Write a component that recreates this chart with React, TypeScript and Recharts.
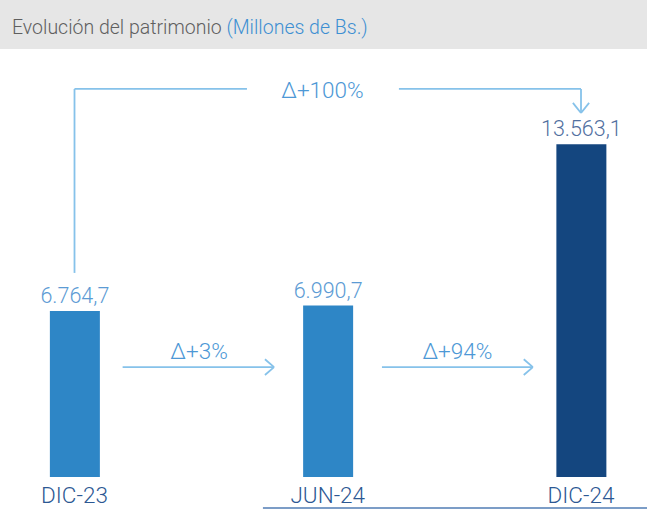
import React from 'react';
import {
  ComposedChart,
  Bar,
  Cell,
  XAxis,
  YAxis,
  LabelList,
  ReferenceLine,
  ReferenceDot,
} from 'recharts';

// ---- data ----
const categories = ['DIC-23', 'JUN-24', 'DIC-24'];
const values = [6764.7, 6990.7, 13563.1];
const changes = ['Δ+3%', 'Δ+94%', 'Δ+100%'];
const titleMain = 'Evolución del patrimonio';
const titleUnit = '(Millones de Bs.)';

// ---- styles ----
const barColors = ['#2e86c6', '#2e86c6', '#14467f'];
const labelColors = ['#5c9bd4', '#5c9bd4', '#52709f'];
const arrowColor = '#86c2ea';
const deltaColor = '#4d98d6';
const tickColor = '#2c5893';
const FONT = 'Roboto, "Liberation Sans", sans-serif';

const W = 649;
const H = 526;

const data = categories.map((c, i) => ({ idx: i, name: c, value: values[i] }));

const fmt = (v: number) => {
  const [i, d] = v.toFixed(1).split('.');
  return i.replace(/\B(?=(\d{3})+(?!\d))/g, '.') + ',' + d;
};

// annotation geometry (in axis units)
const ARROW_Y = 4480;
const ARROW_TEXT_Y = 5140;
const WING_DX = 0.036;
const WING_DY = 320;
const arrows = [
  { from: 0.19, to: 0.788, text: 0.492, label: changes[0] },
  { from: 1.214, to: 1.81, text: 1.512, label: changes[1] },
];
const BRACKET_TOP = 15820;
const BRACKET_START = 8320;
const BRACKET_TIP = 14840;
const BRACKET_GAP = [0.681, 1.281];
const BRACKET_TEXT = { x: 0.979, y: 15780 };

const ValueLabel = (props: any) => {
  const { x, y, width, value, index } = props;
  return (
    <text
      x={x + width / 2}
      y={y - 8}
      textAnchor="middle"
      fill={labelColors[index]}
      fontSize={21.5}
      fontWeight={300}
      fontFamily={FONT}
    >
      {fmt(value)}
    </text>
  );
};

const Tick = (props: any) => {
  const { x, y, payload } = props;
  return (
    <text
      x={x}
      y={y}
      dy={17.5}
      textAnchor="middle"
      fill={tickColor}
      fontSize={22.5}
      fontWeight={300}
      fontFamily={FONT}
    >
      {categories[payload.value]}
    </text>
  );
};

const seg = (x1: number, y1: number, x2: number, y2: number, key: string, color = arrowColor, w = 1.8) => (
  <ReferenceLine
    key={key}
    segment={[
      { x: x1, y: y1 },
      { x: x2, y: y2 },
    ]}
    stroke={color}
    strokeWidth={w}
    ifOverflow="visible"
  />
);

const textDot = (x: number, y: number, label: string, key: string) => (
  <ReferenceDot
    key={key}
    x={x}
    y={y}
    r={0}
    fill="none"
    stroke="none"
    ifOverflow="visible"
    label={{
      value: label,
      position: 'center',
      fill: deltaColor,
      fontSize: 22.5,
      fontWeight: 300,
      fontFamily: FONT,
    }}
  />
);

export default function App() {
  return (
    <div style={{ position: 'absolute', left: 0, top: 0, width: W, height: H, background: '#fff' }}>
      <div
        style={{
          position: 'absolute',
          left: 0,
          top: 0,
          width: 647,
          height: 49,
          background: '#e6e6e6',
        }}
      />
      <div
        style={{
          position: 'absolute',
          left: 12,
          top: 18,
          fontFamily: FONT,
          fontWeight: 300,
          fontSize: 19.5,
          lineHeight: '20px',
          whiteSpace: 'nowrap',
          color: '#5f5f5f',
        }}
      >
        {titleMain} <span style={{ color: '#3d8fd2' }}>{titleUnit}</span>
      </div>
      <div style={{ position: 'absolute', left: 0, top: 0 }}>
        <ComposedChart
          width={W}
          height={H}
          data={data}
          margin={{ top: 60, right: 0, left: 0, bottom: 19 }}
        >
          <XAxis
            dataKey="idx"
            type="number"
            domain={[-0.2942, 2.2685]}
            allowDataOverflow
            ticks={[0, 1, 2]}
            interval={0}
            axisLine={false}
            tickLine={false}
            height={30}
            tick={<Tick />}
          />
          <YAxis hide domain={[0, 17000]} allowDataOverflow />
          <Bar dataKey="value" barSize={50} isAnimationActive={false}>
            {data.map((d, i) => (
              <Cell key={d.name} fill={barColors[i]} />
            ))}
            <LabelList dataKey="value" content={<ValueLabel />} />
          </Bar>
          {arrows.map((a, i) => [
            seg(a.from, ARROW_Y, a.to, ARROW_Y, `a${i}`),
            seg(a.to - WING_DX, ARROW_Y + WING_DY, a.to, ARROW_Y, `w1${i}`),
            seg(a.to - WING_DX, ARROW_Y - WING_DY, a.to, ARROW_Y, `w2${i}`),
            textDot(a.text, ARROW_TEXT_Y, a.label, `t${i}`),
          ])}
          {seg(0, BRACKET_START, 0, BRACKET_TOP, 'b1')}
          {seg(0, BRACKET_TOP, BRACKET_GAP[0], BRACKET_TOP, 'b2')}
          {seg(BRACKET_GAP[1], BRACKET_TOP, 2, BRACKET_TOP, 'b3')}
          {seg(2, BRACKET_TOP, 2, BRACKET_TIP, 'b4')}
          {seg(2 - 0.032, BRACKET_TIP + 410, 2, BRACKET_TIP, 'b5')}
          {seg(2 + 0.032, BRACKET_TIP + 410, 2, BRACKET_TIP, 'b6')}
          {textDot(BRACKET_TEXT.x, BRACKET_TEXT.y, changes[2], 'tb')}
          {seg(0.744, -1264, 2.2606, -1264, 'ul', '#7c9dc7', 2)}
        </ComposedChart>
      </div>
    </div>
  );
}
